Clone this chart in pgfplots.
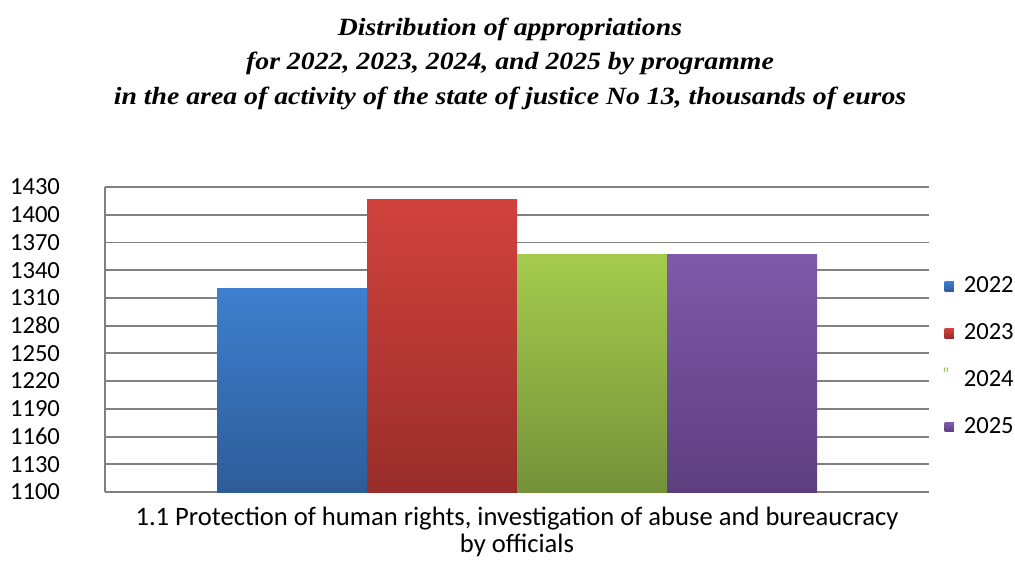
\documentclass[border=0pt]{standalone}
\usepackage{fontspec}
\setmainfont{Carlito}
\newfontfamily\titlefont{Liberation Serif}[FakeStretch=1.12]
\usepackage{pgfplots}
\pgfplotsset{compat=1.18}
\definecolor{bT}{HTML}{3E7FCF}\definecolor{bB}{HTML}{2E5C98}
\definecolor{rT}{HTML}{D1423D}\definecolor{rB}{HTML}{992D2A}
\definecolor{gT}{HTML}{A5CB4D}\definecolor{gB}{HTML}{74923A}
\definecolor{pT}{HTML}{7F59A9}\definecolor{pB}{HTML}{5D3F7E}
\definecolor{b1}{HTML}{3C78C8}\definecolor{r1}{HTML}{C93B37}
\definecolor{g1}{HTML}{9BC54A}\definecolor{p1}{HTML}{7953A3}
\newcommand{\tfs}{\fontsize{12.3}{13}\selectfont}
\newcommand{\xl}{1.1 Protection of human rights, investigation of abuse and bureaucracy\\by officials}
\begin{document}
\begin{tikzpicture}
\begin{axis}[
  scale only axis, width=412pt, height=152.5pt,
  ybar=0pt, bar width=75pt,
  xmin=-1, xmax=1, ymin=1100, ymax=1430,
  ytick={1100,1130,...,1430},
  xtick={0},
  xticklabels={\xl},
  xticklabel style={align=center, font=\fontsize{13.3}{13.3}\selectfont, yshift=-4pt},
  yticklabel style={font=\tfs, xshift=-19pt},
  major tick length=0pt,
  ymajorgrids, grid style={draw=black!50, line width=0.95pt},
  axis x line*=bottom, axis y line*=left,
  axis line style={draw=black!50, line width=0.95pt, -},
  /pgf/number format/assume math mode=true,
  /pgf/number format/1000 sep={},
  legend style={at={(1.008,0.443)}, anchor=west, draw=none, fill=none,
    font=\tfs, row sep=10pt, legend cell align=left,
    nodes={inner xsep=5pt}},
  title={Distribution of appropriations\\for 2022, 2023, 2024, and 2025 by programme\\in the area of activity of the state of justice No 13, thousands of euros},
  title style={font=\titlefont\bfseries\itshape\fontsize{12.4}{17.2}\selectfont, align=center, at={(0.5,1)}, anchor=south, yshift=32.5pt, xshift=-3.5pt, inner sep=0pt},
]
\addplot[draw=none, top color=bT, bottom color=bB,
  legend image code/.code={\fill[b1] (0pt,-2.3pt) rectangle (4.6pt,2.3pt);}]
  coordinates {(0,1320)};
\addplot[draw=none, top color=rT, bottom color=rB,
  legend image code/.code={\fill[r1] (0pt,-2.3pt) rectangle (4.6pt,2.3pt);}]
  coordinates {(0,1416)};
\addplot[draw=none, top color=gT, bottom color=gB,
  legend image code/.code={\node[text=g1, inner sep=0pt, anchor=west, font=\fontsize{9}{9}\selectfont] at (-1.5pt,2.5pt) {"};}]
  coordinates {(0,1357)};
\addplot[draw=none, top color=pT, bottom color=pB,
  legend image code/.code={\fill[p1] (0pt,-2.3pt) rectangle (4.6pt,2.3pt);}]
  coordinates {(0,1357)};
\legend{2022,2023,2024,2025}
\end{axis}
\pgfresetboundingbox
\path (current axis.south west) ++(-52.5pt,-38pt) rectangle ++(507.5pt,284pt);
\end{tikzpicture}
\end{document}
